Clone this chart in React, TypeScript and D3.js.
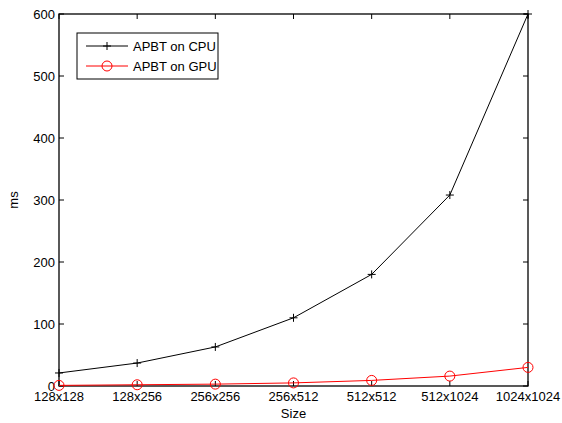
import React from 'react';
import * as d3 from 'd3';

const sizes = ['128x128', '128x256', '256x256', '256x512', '512x512', '512x1024', '1024x1024'];
const cpuMs = [21, 37, 63, 110, 180, 308, 600];
const gpuMs = [1, 2, 3, 5, 9, 16, 30];
const yTicks = [0, 100, 200, 300, 400, 500, 600];

const W = 562, H = 423;
const m = {left: 59, right: 34, top: 14, bottom: 37};
const font = 'Liberation Sans, Arial, sans-serif';
const fs = 13;

export default function App() {
    const x = d3.scalePoint<string>().domain(sizes).range([m.left, W - m.right]);
    const y = d3.scaleLinear().domain([0, 600]).range([H - m.bottom, m.top]);
    const line = d3.line<number>().x((d, i) => x(sizes[i]) as number).y(d => y(d));
    const x0 = m.left, x1 = W - m.right, y0 = H - m.bottom, y1 = m.top;
    const tk = 5;

    return (
        <svg width={W} height={H} style={{position: 'absolute', left: 0, top: 0, background: '#fff'}}>
            <rect x={0} y={0} width={W} height={H} fill="#fff" />
            {/* ticks */}
            {sizes.map(s => (
                <g key={s}>
                    <line x1={x(s)} x2={x(s)} y1={y0} y2={y0 - tk} stroke="#000" />
                    <line x1={x(s)} x2={x(s)} y1={y1} y2={y1 + tk} stroke="#000" />
                    <text x={x(s)} y={y0 + 15} textAnchor="middle" fontSize={fs} fontFamily={font}>{s}</text>
                </g>
            ))}
            {yTicks.map(t => (
                <g key={t}>
                    <line x1={x0} x2={x0 + tk} y1={y(t)} y2={y(t)} stroke="#000" />
                    <line x1={x1} x2={x1 - tk} y1={y(t)} y2={y(t)} stroke="#000" />
                    <text x={x0 - 4} y={y(t) + 4.5} textAnchor="end" fontSize={fs} fontFamily={font}>{t}</text>
                </g>
            ))}
            <rect x={x0} y={y1} width={x1 - x0} height={y0 - y1} fill="none" stroke="#000" strokeWidth={1.3} />
            {/* series */}
            <path d={line(cpuMs) || ''} fill="none" stroke="#000" strokeWidth={1} />
            {cpuMs.map((v, i) => {
                const cx = x(sizes[i]) as number, cy = y(v);
                return <path key={i} d={`M${cx - 4},${cy}H${cx + 4}M${cx},${cy - 4}V${cy + 4}`} stroke="#000" />;
            })}
            <path d={line(gpuMs) || ''} fill="none" stroke="#ff0000" strokeWidth={1} />
            {gpuMs.map((v, i) => (
                <circle key={i} cx={x(sizes[i])} cy={y(v)} r={5} fill="none" stroke="#ff0000" />
            ))}
            {/* legend */}
            <g fontFamily={font} fontSize={fs}>
                <rect x={77} y={33} width={141} height={46} fill="#fff" stroke="#000" />
                <line x1={86} x2={128} y1={46} y2={46} stroke="#000" />
                <path d="M103,46H111M107,42V50" stroke="#000" />
                <text x={133} y={50.5}>APBT on CPU</text>
                <line x1={86} x2={128} y1={66} y2={66} stroke="#ff0000" />
                <circle cx={107} cy={66} r={5} fill="none" stroke="#ff0000" />
                <text x={133} y={70.5}>APBT on GPU</text>
            </g>
            <text x={(x0 + x1) / 2} y={418} textAnchor="middle" fontSize={fs} fontFamily={font}>Size</text>
            <text transform={`translate(18,${(y0 + y1) / 2}) rotate(-90)`} textAnchor="middle" fontSize={fs} fontFamily={font}>ms</text>
        </svg>
    );
}
